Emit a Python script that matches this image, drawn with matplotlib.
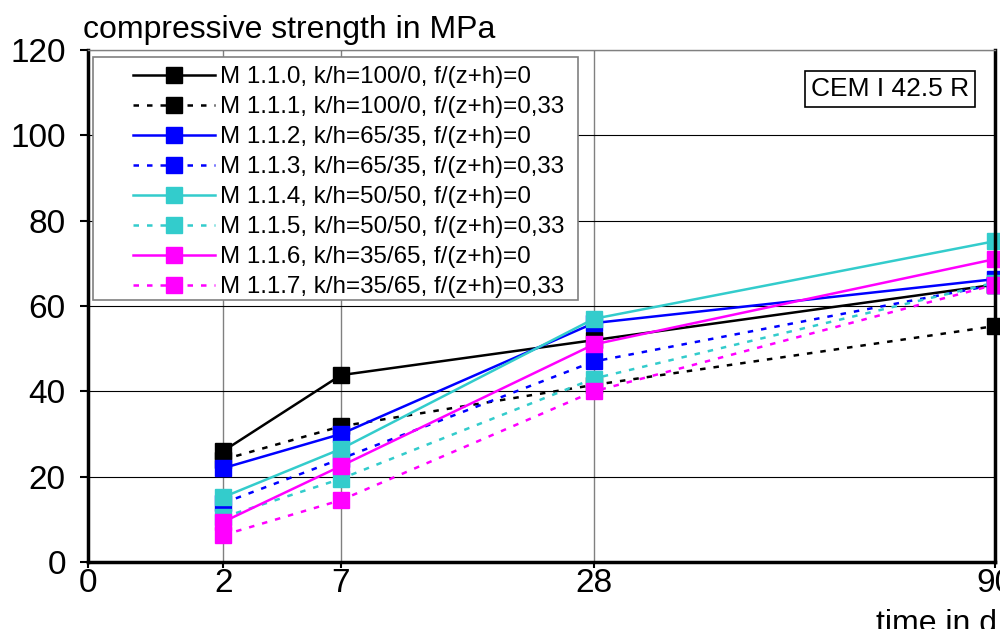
import numpy as np
from matplotlib import pyplot as plt
from matplotlib.patches import Rectangle

plt.rcParams['font.family'] = ['Liberation Sans', 'DejaVu Sans']

# time in days and compressive strength in MPa
days = [2, 7, 28, 90]
m110 = [26.0, 43.8, 52.0, 65.0]
m111 = [24.0, 31.8, 41.5, 55.3]
m112 = [22.0, 30.0, 56.0, 66.3]
m113 = [13.8, 24.2, 47.0, 65.0]
m114 = [15.2, 26.5, 57.0, 75.2]
m115 = [10.5, 19.5, 43.0, 65.5]
m116 = [9.4, 22.5, 51.0, 71.0]
m117 = [6.3, 14.5, 40.0, 65.0]

labels = ["M 1.1.0, k/h=100/0, f/(z+h)=0",
          "M 1.1.1, k/h=100/0, f/(z+h)=0,33",
          "M 1.1.2, k/h=65/35, f/(z+h)=0",
          "M 1.1.3, k/h=65/35, f/(z+h)=0,33",
          "M 1.1.4, k/h=50/50, f/(z+h)=0",
          "M 1.1.5, k/h=50/50, f/(z+h)=0,33",
          "M 1.1.6, k/h=35/65, f/(z+h)=0",
          "M 1.1.7, k/h=35/65, f/(z+h)=0,33"]
series = [m110, m111, m112, m113, m114, m115, m116, m117]
colors = ['black', 'black', '#0000FF', '#0000FF', '#33CCCC', '#33CCCC', '#FF00FF', '#FF00FF']

fig = plt.figure(figsize=(10, 6.29), dpi=100)
ax = fig.add_axes([0.088, 0.1065, 0.907, 0.814])
ax.set_xscale('function', functions=(np.sqrt, np.square))

for i, (vals, lab, col) in enumerate(zip(series, labels, colors)):
    ls = '-' if i % 2 == 0 else (0, (2.2, 3.2))
    ax.plot(days, vals, color=col, linestyle=ls, linewidth=1.8,
            marker='s', markersize=11, markeredgecolor=col, label=lab, clip_on=False)

ax.set_xlim(0, 90)
ax.set_ylim(0, 120)
ax.set_xticks([0, 2, 7, 28, 90])
ax.set_xticklabels(['0', '2', '7', '28', '90'])
ax.set_yticks(range(0, 121, 20))
ax.tick_params(axis='both', labelsize=24, length=6, width=1.5, direction='out')
ax.tick_params(axis='y', pad=10)
ax.tick_params(axis='x', pad=0, length=4)

ax.grid(axis='y', color='black', linewidth=0.8)
for d in days[:3]:
    ax.axvline(d, color='gray', linewidth=1.0, zorder=0)

for s in ['left', 'bottom', 'right']:
    ax.spines[s].set_linewidth(2.5)
ax.spines['top'].set_color('gray')
ax.spines['top'].set_linewidth(1.0)

# legend frame drawn separately to get the wide left margin
ax.add_patch(Rectangle((0.0055, 0.512), 0.5345, 0.474, transform=ax.transAxes,
                       facecolor='white', edgecolor='gray', linewidth=1.2, zorder=4))
leg = ax.legend(loc='upper left', bbox_to_anchor=(0.0496, 0.968), fontsize=17.4,
                handlelength=3.4, handletextpad=0.2, labelspacing=0.33,
                frameon=False, borderpad=0, borderaxespad=0)
leg.set_zorder(5)

ax.text(0.884, 0.924, "CEM I 42.5 R", transform=ax.transAxes, fontsize=19,
        ha='center', va='center',
        bbox=dict(boxstyle='square,pad=0.22', facecolor='white', edgecolor='black', linewidth=1.2))

fig.text(0.083, 0.94, "compressive strength in MPa", fontsize=23, ha='left', va='baseline')
fig.text(0.876, -0.004, "time in d", fontsize=23, ha='left', va='baseline')

plt.savefig("out.png", dpi=100)
plt.close()
